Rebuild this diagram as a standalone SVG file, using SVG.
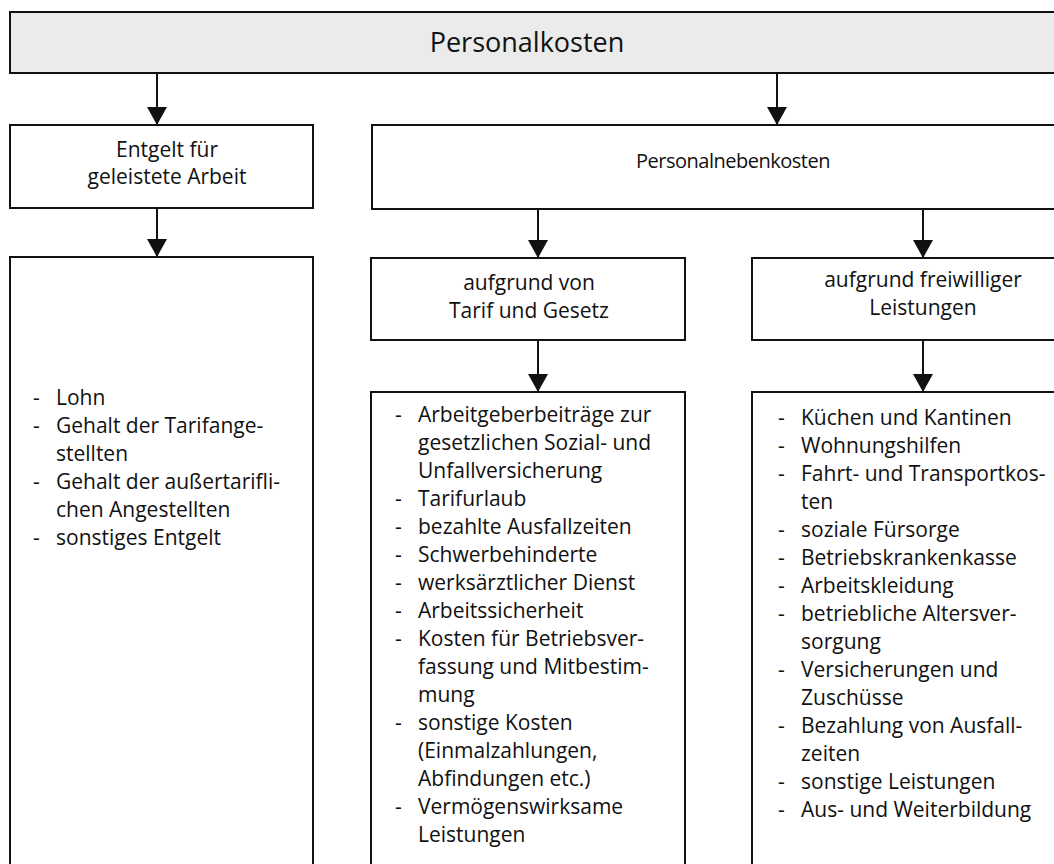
<svg xmlns="http://www.w3.org/2000/svg" width="1054" height="864" viewBox="0 0 1054 864">
  <style>
    .box { fill: #ffffff; stroke: #111111; stroke-width: 2; }
    .head { fill: #ebebeb; stroke: #111111; stroke-width: 2; }
    text { font-family: "Open Sans", "Liberation Sans", sans-serif; fill: #111111; }
    .title { font-size: 27px; text-anchor: middle; }
    .lbl { font-size: 21px; text-anchor: middle; }
    .lbl-tight { font-size: 20px; letter-spacing: -0.5px; text-anchor: middle; }
    .item { font-size: 21px; }
    .conn { stroke: #111111; stroke-width: 2; fill: none; marker-end: url(#arrow); }
  </style>
  <defs>
    <marker id="arrow" markerUnits="userSpaceOnUse" markerWidth="20" markerHeight="20" viewBox="0 0 18 20" refX="18" refY="10" orient="auto">
      <path d="M0,0 L18,10 L0,20 Z" fill="#111111"/>
    </marker>
  </defs>
  <rect width="1054" height="864" fill="#ffffff"/>

  <!-- connectors -->
  <g id="connectors">
    <line class="conn" x1="157" y1="73" x2="157" y2="125"/>
    <line class="conn" x1="777" y1="73" x2="777" y2="125"/>
    <line class="conn" x1="157" y1="208" x2="157" y2="257"/>
    <line class="conn" x1="538" y1="209" x2="538" y2="258"/>
    <line class="conn" x1="923" y1="209" x2="923" y2="258"/>
    <line class="conn" x1="538" y1="340" x2="538" y2="392"/>
    <line class="conn" x1="923" y1="340" x2="923" y2="392"/>
  </g>

  <!-- root -->
  <g id="personalkosten">
    <rect class="head" x="10" y="12" width="1100" height="61"/>
    <text class="title" x="527" y="52">Personalkosten</text>
  </g>

  <!-- second level -->
  <g id="entgelt">
    <rect class="box" x="10" y="125" width="303" height="83"/>
    <text class="lbl" x="167" y="157">Entgelt für</text>
    <text class="lbl" x="167" y="184">geleistete Arbeit</text>
  </g>
  <g id="personalnebenkosten">
    <rect class="box" x="372" y="125" width="728" height="84"/>
    <text class="lbl-tight" x="733" y="168">Personalnebenkosten</text>
  </g>

  <!-- third level -->
  <g id="tarif-gesetz">
    <rect class="box" x="371" y="258" width="314" height="82"/>
    <text class="lbl" x="529" y="290">aufgrund von</text>
    <text class="lbl" x="529" y="318">Tarif und Gesetz</text>
  </g>
  <g id="freiwillig">
    <rect class="box" x="752" y="258" width="348" height="82"/>
    <text class="lbl" x="923" y="287">aufgrund freiwilliger</text>
    <text class="lbl" x="923" y="315">Leistungen</text>
  </g>

  <!-- lists -->
  <g id="liste-entgelt">
    <rect class="box" x="10" y="257" width="303" height="620"/>
    <text class="item" x="33" y="405">-</text>
    <text class="item" x="56" y="405">Lohn</text>
    <text class="item" x="33" y="433">-</text>
    <text class="item" x="56" y="433">Gehalt der Tarifange-</text>
    <text class="item" x="56" y="461">stellten</text>
    <text class="item" x="33" y="489">-</text>
    <text class="item" x="56" y="489">Gehalt der außertarifli-</text>
    <text class="item" x="56" y="517">chen Angestellten</text>
    <text class="item" x="33" y="545">-</text>
    <text class="item" x="56" y="545">sonstiges Entgelt</text>
  </g>

  <g id="liste-tarif-gesetz">
    <rect class="box" x="371" y="392" width="314" height="485"/>
    <text class="item" x="395" y="422">-</text>
    <text class="item" x="418" y="422">Arbeitgeberbeiträge zur</text>
    <text class="item" x="418" y="450">gesetzlichen Sozial- und</text>
    <text class="item" x="418" y="478">Unfallversicherung</text>
    <text class="item" x="395" y="506">-</text>
    <text class="item" x="418" y="506">Tarifurlaub</text>
    <text class="item" x="395" y="534">-</text>
    <text class="item" x="418" y="534">bezahlte Ausfallzeiten</text>
    <text class="item" x="395" y="562">-</text>
    <text class="item" x="418" y="562">Schwerbehinderte</text>
    <text class="item" x="395" y="590">-</text>
    <text class="item" x="418" y="590">werksärztlicher Dienst</text>
    <text class="item" x="395" y="618">-</text>
    <text class="item" x="418" y="618">Arbeitssicherheit</text>
    <text class="item" x="395" y="646">-</text>
    <text class="item" x="418" y="646">Kosten für Betriebsver-</text>
    <text class="item" x="418" y="674">fassung und Mitbestim-</text>
    <text class="item" x="418" y="702">mung</text>
    <text class="item" x="395" y="730">-</text>
    <text class="item" x="418" y="730">sonstige Kosten</text>
    <text class="item" x="418" y="758">(Einmalzahlungen,</text>
    <text class="item" x="418" y="786">Abfindungen etc.)</text>
    <text class="item" x="395" y="814">-</text>
    <text class="item" x="418" y="814">Vermögenswirksame</text>
    <text class="item" x="418" y="842">Leistungen</text>
  </g>

  <g id="liste-freiwillig">
    <rect class="box" x="752" y="392" width="348" height="485"/>
    <text class="item" x="778" y="425">-</text>
    <text class="item" x="801" y="425">Küchen und Kantinen</text>
    <text class="item" x="778" y="453">-</text>
    <text class="item" x="801" y="453">Wohnungshilfen</text>
    <text class="item" x="778" y="481">-</text>
    <text class="item" x="801" y="481">Fahrt- und Transportkos-</text>
    <text class="item" x="801" y="509">ten</text>
    <text class="item" x="778" y="537">-</text>
    <text class="item" x="801" y="537">soziale Fürsorge</text>
    <text class="item" x="778" y="565">-</text>
    <text class="item" x="801" y="565">Betriebskrankenkasse</text>
    <text class="item" x="778" y="593">-</text>
    <text class="item" x="801" y="593">Arbeitskleidung</text>
    <text class="item" x="778" y="621">-</text>
    <text class="item" x="801" y="621">betriebliche Altersver-</text>
    <text class="item" x="801" y="649">sorgung</text>
    <text class="item" x="778" y="677">-</text>
    <text class="item" x="801" y="677">Versicherungen und</text>
    <text class="item" x="801" y="705">Zuschüsse</text>
    <text class="item" x="778" y="733">-</text>
    <text class="item" x="801" y="733">Bezahlung von Ausfall-</text>
    <text class="item" x="801" y="761">zeiten</text>
    <text class="item" x="778" y="789">-</text>
    <text class="item" x="801" y="789">sonstige Leistungen</text>
    <text class="item" x="778" y="817">-</text>
    <text class="item" x="801" y="817">Aus- und Weiterbildung</text>
  </g>
</svg>
